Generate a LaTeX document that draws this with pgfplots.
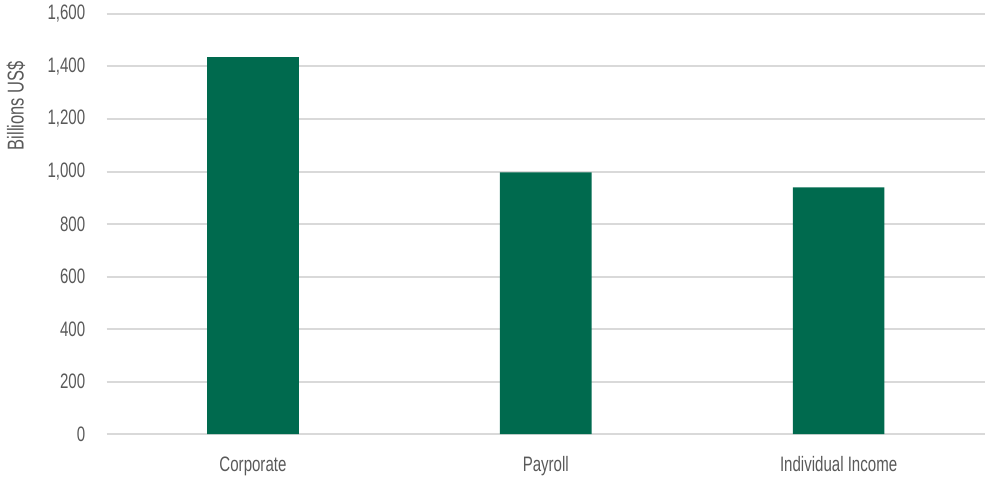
\documentclass[border=0pt]{standalone}
\usepackage{fontspec}
\setmainfont[FakeStretch=0.72]{Liberation Sans}
\usepackage{pgfplots}
\pgfplotsset{compat=1.18}
\definecolor{bargreen}{RGB}{0,106,78}
\definecolor{gridgray}{RGB}{217,217,217}
\definecolor{textgray}{RGB}{89,89,89}
\begin{document}
\begin{tikzpicture}[x=0.5pt,y=0.5pt]
\begin{axis}[
    at={(0,0)}, anchor=south west,
    scale only axis,
    width=441pt, height=211pt,
    xmin=-0.5, xmax=2.5,
    ymin=0, ymax=1600,
    ytick={0,200,...,1600},
    xtick=data,
    xticklabels={Corporate, Payroll, Individual Income},
    axis line style={draw=none},
    major tick length=0pt,
    ymajorgrids,
    grid style={gridgray, line width=1pt},
    ybar, bar width=46pt,
    /pgf/number format/assume math mode=true,
    /pgf/number format/1000 sep={,},
    tick label style={font=\fontsize{10.5}{12}\selectfont, textgray},
    yticklabel style={anchor=east, inner sep=0pt, xshift=-10.5pt},
    xticklabel style={anchor=north, inner sep=0pt, yshift=-11pt},
    ylabel={Billions US\$},
    ylabel style={at={(axis description cs:-0.1032,0.782)}, anchor=center,
      textgray, font=\fontsize{11.5}{13}\selectfont},
]
\addplot [fill=bargreen, draw=none] coordinates {
    (0, 1436)
    (1, 997)
    (2, 940)
};
\end{axis}
\useasboundingbox (-103,-41) rectangle (887,436);
\end{tikzpicture}
\end{document}
